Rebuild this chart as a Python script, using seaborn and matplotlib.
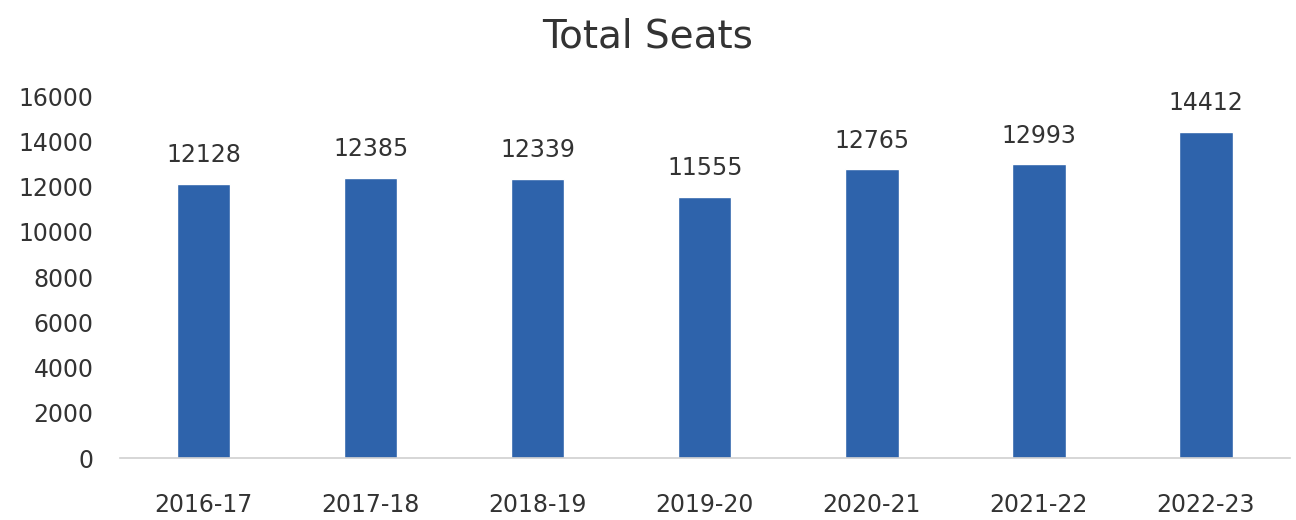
import matplotlib
matplotlib.use("Agg")
import matplotlib.pyplot as plt
import seaborn as sns
import pandas as pd

years = ["2016-17", "2017-18", "2018-19", "2019-20", "2020-21", "2021-22", "2022-23"]
seats = [12128, 12385, 12339, 11555, 12765, 12993, 14412]
yticks = [0, 2000, 4000, 6000, 8000, 10000, 12000, 14000, 16000]

sns.set_theme(style="white")
plt.rcParams['font.family'] = ['DejaVu Sans']

df = pd.DataFrame({"year": years, "seats": seats})

fig = plt.figure(figsize=(12.96, 5.2), dpi=100)
ax = fig.add_axes([0.0926, 0.119, 0.9024, 0.696])
sns.barplot(data=df, x="year", y="seats", color="#2E63AB", width=0.32, ax=ax, saturation=1)

ax.set_xlim(-0.5, len(years) - 0.5)
ax.set_ylim(0, 16000)
ax.set_yticks(yticks)
ax.set_yticklabels([str(t) for t in yticks])
ax.set_xlabel("")
ax.set_ylabel("")
ax.tick_params(axis="both", length=0, labelsize=17, colors="#333333")
ax.tick_params(axis="x", pad=25)
ax.tick_params(axis="y", pad=19)
for lab in ax.get_yticklabels():
    lab.set_horizontalalignment("right")
for s in ["top", "right", "left"]:
    ax.spines[s].set_visible(False)
ax.spines["bottom"].set_color("#d0d0d0")
ax.spines["bottom"].set_linewidth(1.2)

for cont in ax.containers:
    ax.bar_label(cont, labels=[str(v) for v in seats], padding=12, fontsize=17, color="#333333")

fig.text(0.5, 0.93, "Total Seats", ha="center", va="center", fontsize=28, color="#333333")

fig.savefig("out.png", dpi=100)
